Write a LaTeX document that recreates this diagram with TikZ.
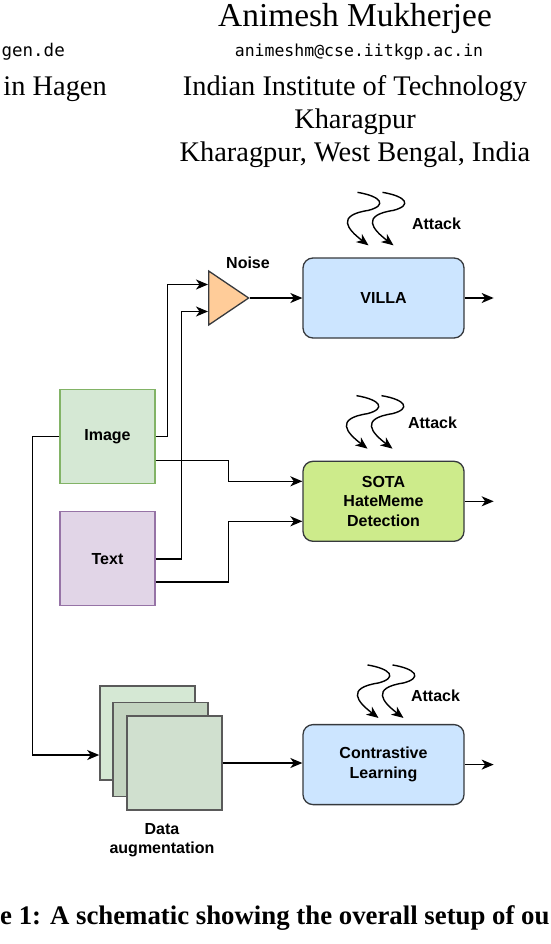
\documentclass[tikz,border=0pt]{standalone}
\usepackage{fontspec}
\setmainfont{Liberation Serif}
\setmonofont{DejaVu Sans Mono}
\newfontfamily\diafont{Liberation Sans}
\usepackage{tikz}
\usetikzlibrary{shapes.geometric,arrows.meta,positioning,calc}
\usepackage{xcolor}
\definecolor{edgegrey}{HTML}{36393D}
\definecolor{modelblue}{HTML}{CCE5FF}
\definecolor{sotagreen}{HTML}{CDEB8B}
\definecolor{imggreen}{HTML}{D5E8D4}
\definecolor{imgedge}{HTML}{82B366}
\definecolor{txtpurple}{HTML}{E1D5E7}
\definecolor{txtedge}{HTML}{9673A6}
\definecolor{noiseorange}{HTML}{FFCC99}
\definecolor{augmid}{HTML}{C3D4C0}
\definecolor{augfront}{HTML}{D0E0CF}
\definecolor{augedge}{HTML}{5A5A5A}

\begin{document}
\begin{tikzpicture}[x=1pt, y=-1pt,
    modelbox/.style={rectangle, draw=edgegrey, line width=1.3pt, rounded corners=10pt,
        minimum width=161pt, minimum height=80pt, align=center, inner sep=2pt,
        font=\diafont\bfseries\fontsize{16}{19.5}\selectfont},
    inbox/.style={rectangle, line width=1.3pt, minimum width=95pt, minimum height=94pt,
        inner sep=0pt, font=\diafont\bfseries\fontsize{16}{19.5}\selectfont},
    augbox/.style={rectangle, draw=augedge, line width=1.6pt,
        minimum width=95pt, minimum height=94pt},
    lbl/.style={align=center, inner sep=0pt,
        font=\diafont\bfseries\fontsize{16}{19.5}\selectfont},
    hdr/.style={anchor=base, inner sep=0pt, font=\fontsize{28.4}{33}\selectfont},
    arr/.style={-{Stealth[length=12pt, width=10pt, inset=3.5pt]}, line width=1.4pt}
]
    \useasboundingbox (0,0) rectangle (550,944);

    % header of the paper
    \node[hdr, font=\fontsize{33.4}{38}\selectfont] (name) at (355,27) {Animesh Mukherjee};
    \node[hdr, font=\ttfamily\fontsize{16.5}{20}\selectfont] (mail) at (359,57) {animeshm@cse.iitkgp.ac.in};
    \node[hdr] (inst) at (355,96) {Indian Institute of Technology};
    \node[hdr] (city) at (355,129) {Kharagpur};
    \node[hdr] (addr) at (355,161) {Kharagpur, West Bengal, India};
    \node[hdr, anchor=base east, font=\ttfamily\fontsize{17.5}{20}\selectfont] (mailL) at (65,57) {gen.de};
    \node[hdr, anchor=base east] (instL) at (107,96) {in Hagen};

    % models
    \node[modelbox, fill=modelblue] (villa) at (383.5,298) {VILLA};
    \node[modelbox, fill=sotagreen, below=122pt of villa] (sota) {SOTA\\HateMeme\\Detection};
    \node[modelbox, fill=modelblue, below=182pt of sota] (contr) {Contrastive\\Learning};

    % inputs
    \node[inbox, draw=imgedge, fill=imggreen] (img) at (107.5,436.5) {Image};
    \node[inbox, draw=txtedge, fill=txtpurple, below=27pt of img] (txt) {Text};

    \node[isosceles triangle, isosceles triangle stretches, shape border rotate=0,
        minimum width=54pt, minimum height=40pt, inner sep=0pt, anchor=west,
        draw=edgegrey, fill=noiseorange, line width=1.3pt] (noise) at (208,298) {};
    \node[lbl] (noiselbl) at (248,263) {Noise};

    \node[augbox, fill=imggreen] (aug1) at (147.5,733) {};
    \node[augbox, fill=augmid] (aug2) at (160.5,749.5) {};
    \node[augbox, fill=augfront] (aug3) at (174.5,763) {};
    \node[lbl] (auglbl) at (162,840) {Data\\augmentation};

    % connectors
    \draw[arr] (img.east) -- ++(12,0) |- ([yshift=13.5pt]noise.west);
    \draw[arr] (txt.east) -- ++(26,0) |- ([yshift=-13.5pt]noise.west);
    \draw[arr] (noise.apex) -- (villa.west);
    \draw[arr] ($(img.east)+(0,24)$) -- ++(73,0) |- ([yshift=20pt]sota.west);
    \draw[arr] ($(txt.east)+(0,23)$) -- ++(73,0) |- ([yshift=-20pt]sota.west);
    \draw[arr] (img.west) -- ++(-27,0) |- ([yshift=-22pt]aug1.west);
    \draw[arr] (aug3.east) -- (aug3.east -| contr.west);

    \coordinate[right=29pt of villa.east] (villaout);
    \coordinate[right=29pt of sota.east] (sotaout);
    \coordinate[right=29pt of contr.east] (controut);
    \draw[arr] (villa.east) -- (villaout);
    \draw[arr] (sota.east) -- (sotaout);
    \draw[arr] (contr.east) -- (controut);

    % attacks on the models
    \foreach \b/\dx/\dy/\lx/\ly in {villa/0/0/53/-34, sota/-1/0/50/-38, contr/10/6/42/-34} {
        \begin{scope}[shift={($(\b.north)+(\dx,\dy)$)}]
            \foreach \s in {0,25} {
                \draw[arr] (-26+\s,-65) .. controls (-2+\s,-61) and (4+\s,-52) .. (-15+\s,-47)
                    .. controls (-48+\s,-42) and (-36+\s,-28) .. (-15+\s,-12);
            }
            \node[lbl] (atk\b) at (\lx,\ly) {Attack};
        \end{scope}
    }

    % caption
    \node[hdr, anchor=base west, font=\bfseries\fontsize{26.8}{32}\selectfont] (cap) at (0,924)
        {e 1: A schematic showing the overall setup of ou};
\end{tikzpicture}
\end{document}
